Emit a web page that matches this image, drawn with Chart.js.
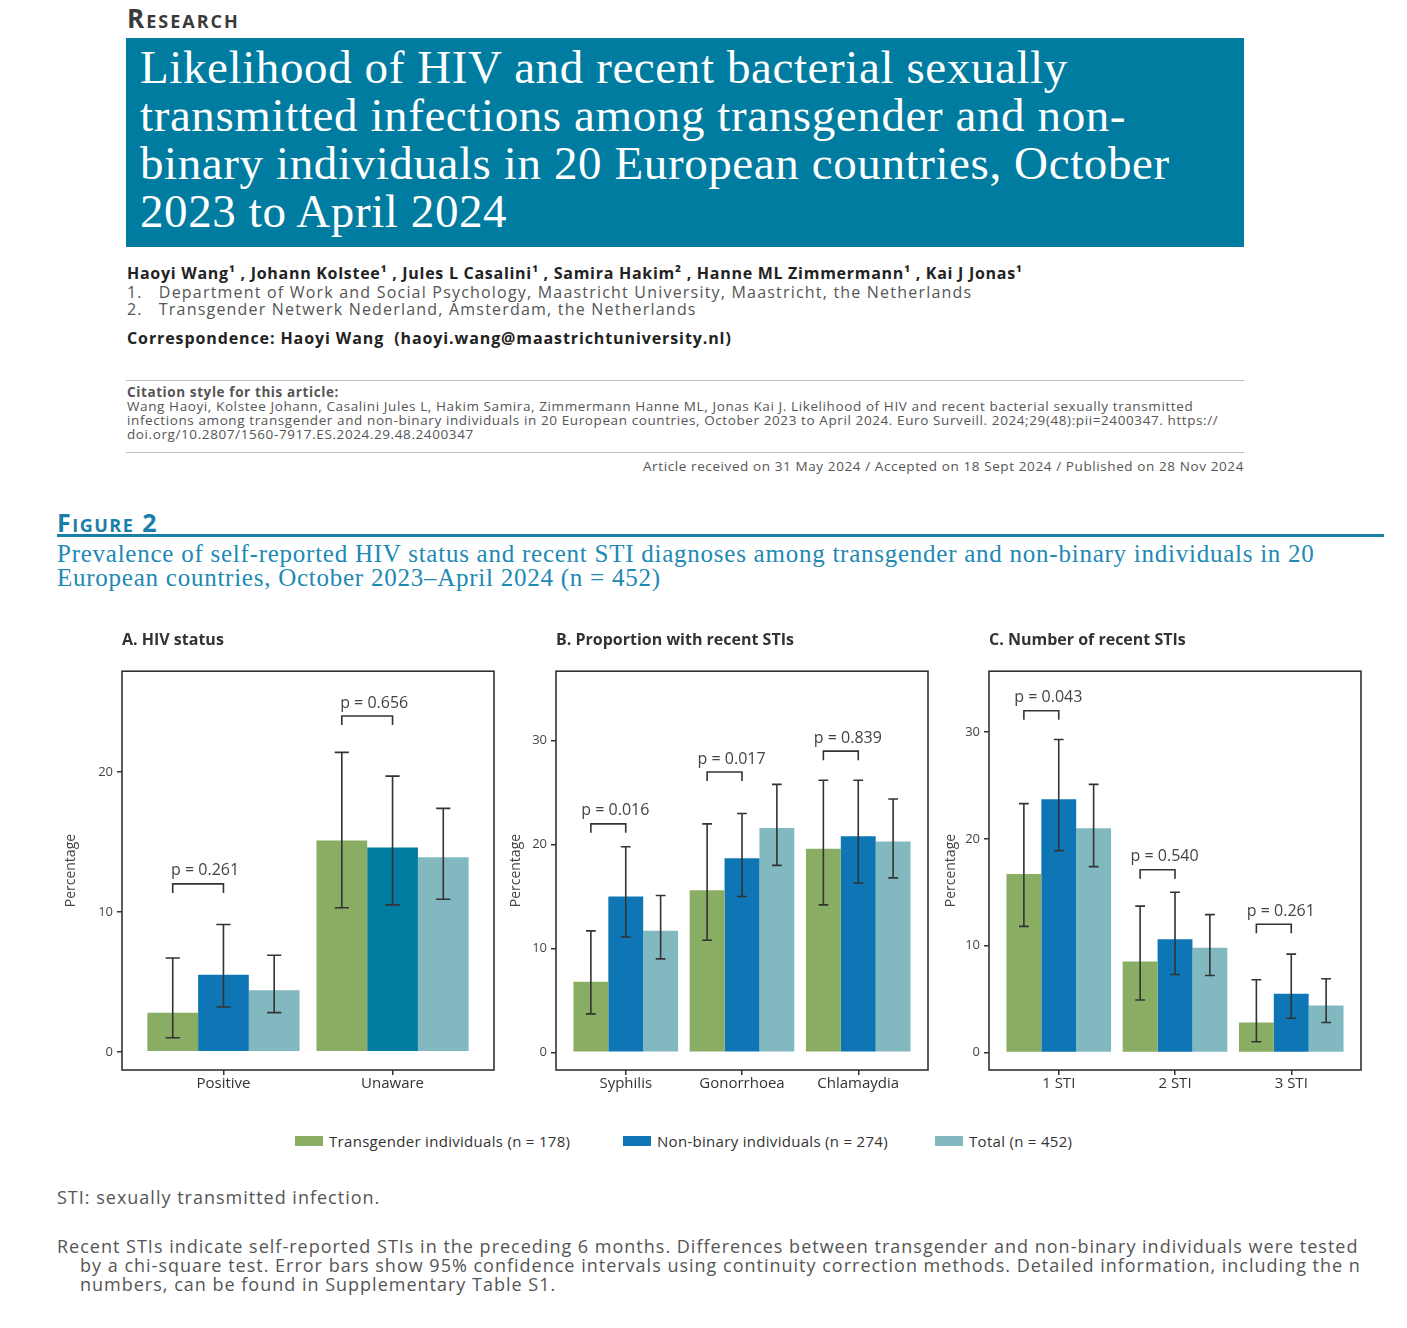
<!DOCTYPE html>
<html><head><meta charset="utf-8">
<script src="https://cdn.jsdelivr.net/npm/chart.js@4.4.1/dist/chart.umd.min.js"></script>
<style>
body{margin:0;background:#fff;width:1407px;height:1328px;position:relative;overflow:hidden;font-family:"Open Sans",sans-serif;color:#333;}
.abs{position:absolute;white-space:nowrap;}
#research{left:127px;top:0px;font:bold 26px "Open Sans";font-variant:small-caps;color:#3a3a3a;letter-spacing:2px;}
#tbox{left:126px;top:38px;width:1118px;height:209px;background:#007ca1;}
#ttext{left:140px;top:43px;font:47px "Liberation Serif";line-height:48px;color:#fff;letter-spacing:0.6px;}
.meta{font-family:"Open Sans";font-size:16px;color:#555;letter-spacing:1.2px;}
#authors{left:127px;top:262px;font-weight:bold;color:#222;letter-spacing:0.72px;}
#aff1{left:127px;top:281px;}
#aff2{left:127px;top:298px;}
#corr{left:127px;top:327px;font-weight:bold;color:#222;letter-spacing:0.9px;}
.hr{position:absolute;left:126px;width:1118px;height:1px;background:#bdbdbd;}
#cit{left:127px;top:385px;font:13.5px "Open Sans";line-height:14px;color:#555;letter-spacing:0.6px;}
#recv{right:163px;top:457px;font:13.5px "Open Sans";color:#555;letter-spacing:0.6px;}
#fig{left:57px;top:505px;font:bold 25px "Open Sans";font-variant:small-caps;color:#1880a8;letter-spacing:1.5px;}
#figline{position:absolute;left:57px;top:534px;width:1327px;height:3px;background:#1a7fa6;}
#cap{left:57px;top:542px;font:25px "Liberation Serif";line-height:24px;color:#2089b3;letter-spacing:0.75px;}
canvas{position:absolute;}
.leg{position:absolute;top:1131px;font:15px "Open Sans";color:#333;display:flex;align-items:center;letter-spacing:0.3px;}
.sw{display:inline-block;width:28px;height:10px;margin-right:6px;}
#fn1{left:57px;top:1185px;font:18px "Open Sans";color:#555;letter-spacing:1px;}
#fn2{left:57px;top:1237px;font:18px "Open Sans";color:#555;letter-spacing:1px;line-height:19px;padding-left:23px;text-indent:-23px;}
</style></head><body>
<div id="research" class="abs">Research</div>
<div id="tbox" class="abs"></div>
<div id="ttext" class="abs">Likelihood of HIV and recent bacterial sexually<br>transmitted infections among transgender and non-<br>binary individuals in 20 European countries, October<br>2023 to April 2024</div>
<div id="authors" class="abs meta">Haoyi Wang¹ , Johann Kolstee¹ , Jules L Casalini¹ , Samira Hakim² , Hanne ML Zimmermann¹ , Kai J Jonas¹</div>
<div id="aff1" class="abs meta">1.&nbsp;&nbsp;&nbsp;Department of Work and Social Psychology, Maastricht University, Maastricht, the Netherlands</div>
<div id="aff2" class="abs meta">2.&nbsp;&nbsp;&nbsp;Transgender Netwerk Nederland, Amsterdam, the Netherlands</div>
<div id="corr" class="abs meta">Correspondence: Haoyi Wang&nbsp; (haoyi.wang@maastrichtuniversity.nl)</div>
<div class="hr" style="top:380px"></div>
<div id="cit" class="abs"><b>Citation style for this article:</b><br>Wang Haoyi, Kolstee Johann, Casalini Jules L, Hakim Samira, Zimmermann Hanne ML, Jonas Kai J. Likelihood of HIV and recent bacterial sexually transmitted<br>infections among transgender and non-binary individuals in 20 European countries, October 2023 to April 2024. Euro Surveill. 2024;29(48):pii=2400347. https://<br>doi.org/10.2807/1560-7917.ES.2024.29.48.2400347</div>
<div class="hr" style="top:452px"></div>
<div id="recv" class="abs">Article received on 31 May 2024 / Accepted on 18 Sept 2024 / Published on 28 Nov 2024</div>
<div id="fig" class="abs">Figure 2</div>
<div id="figline"></div>
<div id="cap" class="abs">Prevalence of self-reported HIV status and recent STI diagnoses among transgender and non-binary individuals in 20<br>European countries, October 2023–April 2024 (n = 452)</div>

<canvas id="cA" width="450" height="475" style="left:55px;top:625px"></canvas>
<canvas id="cB" width="450" height="475" style="left:489px;top:625px"></canvas>
<canvas id="cC" width="450" height="475" style="left:922px;top:625px"></canvas>
<div id="legend"></div>

<div id="fn1" class="abs">STI: sexually transmitted infection.</div>
<div id="fn2" class="abs">Recent STIs indicate self-reported STIs in the preceding 6 months. Differences between transgender and non-binary individuals were tested<br>by a chi-square test. Error bars show 95% confidence intervals using continuity correction methods. Detailed information, including the n<br>numbers, can be found in Supplementary Table S1.</div>

<script>
// ---------- DATA ----------
const seriesNames = ['Transgender individuals (n = 178)', 'Non-binary individuals (n = 274)', 'Total (n = 452)'];

// Panel A: HIV status
const catA = ['Positive', 'Unaware'];
const transA = [2.8, 15.1];  const transA_lo = [1.0, 10.3];  const transA_hi = [6.7, 21.4];
const nbA    = [5.5, 14.6];  const nbA_lo    = [3.2, 10.5];  const nbA_hi    = [9.1, 19.7];
const totA   = [4.4, 13.9];  const totA_lo   = [2.8, 10.9];  const totA_hi   = [6.9, 17.4];
const pTextA  = ['p = 0.261', 'p = 0.656'];
const pLevelA = [12.0, 24.0];
const yTicksA = [0, 10, 20];

// Panel B: Proportion with recent STIs
const catB = ['Syphilis', 'Gonorrhoea', 'Chlamaydia'];
const transB = [6.8, 15.6, 19.6];  const transB_lo = [3.7, 10.8, 14.2];  const transB_hi = [11.7, 22.0, 26.2];
const nbB    = [15.0, 18.7, 20.8]; const nbB_lo    = [11.1, 15.0, 16.3]; const nbB_hi    = [19.8, 23.0, 26.2];
const totB   = [11.7, 21.6, 20.3]; const totB_lo   = [9.0, 18.0, 16.8];  const totB_hi   = [15.1, 25.8, 24.4];
const pTextB  = ['p = 0.016', 'p = 0.017', 'p = 0.839'];
const pLevelB = [22.0, 27.0, 29.0];
const yTicksB = [0, 10, 20, 30];

// Panel C: Number of recent STIs
const catC = ['1 STI', '2 STI', '3 STI'];
const transC = [16.7, 8.5, 2.8];  const transC_lo = [11.8, 4.9, 1.0]; const transC_hi = [23.3, 13.7, 6.8];
const nbC    = [23.7, 10.6, 5.5]; const nbC_lo    = [18.9, 7.3, 3.2]; const nbC_hi    = [29.3, 15.0, 9.2];
const totC   = [21.0, 9.8, 4.4];  const totC_lo   = [17.4, 7.2, 2.8]; const totC_hi   = [25.1, 12.9, 6.9];
const pTextC  = ['p = 0.043', 'p = 0.540', 'p = 0.261'];
const pLevelC = [32.0, 17.1, 12.0];
const yTicksC = [0, 10, 20, 30];

// ---------- STYLE ----------
const colors = ['#89ad62', '#0f76b6', '#82b9c1'];
const unawareBlue = '#017b9f';
const legendLeft = [295, 623, 935];

// legend
const legEl = document.getElementById('legend');
seriesNames.forEach((n, i) => {
  const d = document.createElement('div');
  d.className = 'leg';
  d.style.left = legendLeft[i] + 'px';
  d.innerHTML = '<span class="sw" style="background:' + colors[i] + '"></span>' + n;
  legEl.appendChild(d);
});

const annot = {
  id: 'annot',
  afterDatasetsDraw(chart, args, opts) {
    const ctx = chart.ctx, y = chart.scales.y, a = chart.chartArea;
    ctx.save();
    ctx.strokeStyle = '#333'; ctx.lineWidth = 1.6;
    chart.data.datasets.forEach((ds, di) => {
      const meta = chart.getDatasetMeta(di);
      meta.data.forEach((bar, i) => {
        const hw = bar.width * 0.14;
        const yl = y.getPixelForValue(ds.lo[i]), yh = y.getPixelForValue(ds.hi[i]);
        ctx.beginPath();
        ctx.moveTo(bar.x, yl); ctx.lineTo(bar.x, yh);
        ctx.moveTo(bar.x - hw, yl); ctx.lineTo(bar.x + hw, yl);
        ctx.moveTo(bar.x - hw, yh); ctx.lineTo(bar.x + hw, yh);
        ctx.stroke();
      });
    });
    const m0 = chart.getDatasetMeta(0), m1 = chart.getDatasetMeta(1);
    opts.levels.forEach((lv, i) => {
      const x0 = m0.data[i].x, x1 = m1.data[i].x, yy = y.getPixelForValue(lv);
      ctx.beginPath();
      ctx.moveTo(x0, yy + 9); ctx.lineTo(x0, yy); ctx.lineTo(x1, yy); ctx.lineTo(x1, yy + 9);
      ctx.stroke();
      ctx.fillStyle = '#444'; ctx.font = '16px "Open Sans"';
      ctx.textAlign = 'center'; ctx.textBaseline = 'middle';
      ctx.fillText(opts.labels[i], (x0 + x1) / 2 + 7, yy - 13);
    });
    ctx.strokeStyle = '#333'; ctx.lineWidth = 1.6;
    ctx.strokeRect(a.left, a.top, a.width, a.height);
    ctx.restore();
  }
};

function makeChart(id, title, cats, vals, los, his, barColors, yMin, yMax, yTicks, pText, pLevel, yTitlePad) {
  const datasets = vals.map((v, s) => ({
    label: seriesNames[s],
    data: cats.map((c, i) => ({ x: i + 1, y: v[i] })),
    lo: los[s], hi: his[s],
    backgroundColor: barColors[s],
    borderWidth: 0,
    categoryPercentage: 0.9,
    barPercentage: 1.0
  }));
  return new Chart(document.getElementById(id), {
    type: 'bar',
    data: { datasets },
    plugins: [annot],
    options: {
      responsive: false, animation: false,
      layout: { padding: { left: 0, right: 11, top: 0, bottom: 0 } },
      plugins: {
        legend: { display: false }, tooltip: { enabled: false },
        title: { display: true, text: title, align: 'start', fullSize: false, color: '#333',
                 font: { family: 'Open Sans', size: 16, weight: 'bold' }, padding: { top: 6, bottom: 21 } },
        annot: { levels: pLevel, labels: pText }
      },
      scales: {
        x: {
          type: 'linear', min: 0.4, max: cats.length + 0.6, offset: false,
          afterBuildTicks: ax => { ax.ticks = cats.map((c, i) => ({ value: i + 1 })); },
          afterFit: ax => { ax.height = 30; },
          ticks: { callback: v => cats[v - 1], color: '#333', font: { family: 'Open Sans', size: 15 },
                   padding: 0, maxRotation: 0, autoSkip: false },
          grid: { display: true, drawOnChartArea: false, drawTicks: true, tickLength: 5, color: '#333', lineWidth: 1.5, offset: false },
          border: { display: false }
        },
        y: {
          min: yMin, max: yMax,
          afterBuildTicks: ax => { ax.ticks = yTicks.map(v => ({ value: v })); },
          afterFit: ax => { ax.width = 67; },
          ticks: { color: '#444', font: { family: 'Open Sans', size: 13 }, padding: 4 },
          grid: { display: true, drawOnChartArea: false, drawTicks: true, tickLength: 5, color: '#333', lineWidth: 1.5 },
          border: { display: false },
          title: { display: true, text: 'Percentage', color: '#444', font: { family: 'Open Sans', size: 14 },
                   padding: { top: yTitlePad, bottom: 0 } }
        }
      }
    }
  });
}

makeChart('cA', 'A. HIV status', catA,
  [transA, nbA, totA], [transA_lo, nbA_lo, totA_lo], [transA_hi, nbA_hi, totA_hi],
  [colors[0], [colors[1], unawareBlue], colors[2]], -1.3, 27.2, yTicksA, pTextA, pLevelA, 8);
makeChart('cB', 'B. Proportion with recent STIs', catB,
  [transB, nbB, totB], [transB_lo, nbB_lo, totB_lo], [transB_hi, nbB_hi, totB_hi],
  colors, -1.7, 36.7, yTicksB, pTextB, pLevelB, 19);
makeChart('cC', 'C. Number of recent STIs', catC,
  [transC, nbC, totC], [transC_lo, nbC_lo, totC_lo], [transC_hi, nbC_hi, totC_hi],
  colors, -1.65, 35.7, yTicksC, pTextC, pLevelC, 21);
</script>
</body></html>
